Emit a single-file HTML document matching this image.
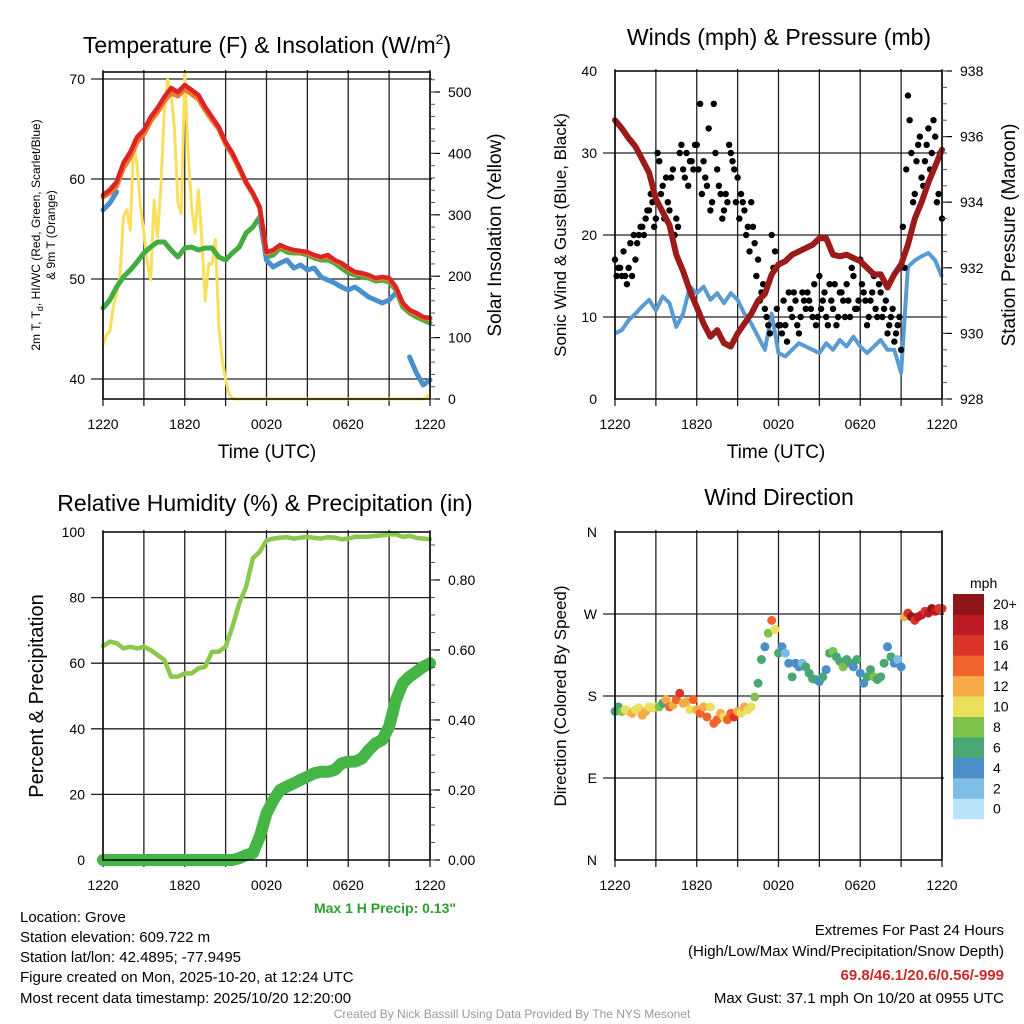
<!DOCTYPE html>
<html><head><meta charset="utf-8"><title>Mesonet Meteogram - Grove</title>
<style>
html,body{margin:0;padding:0;background:#fff;}
svg{display:block;font-family:"Liberation Sans",Arial,sans-serif;}
</style></head>
<body>
<svg id="chart" width="1024" height="1024" viewBox="0 0 1024 1024" xmlns="http://www.w3.org/2000/svg">
<rect x="0" y="0" width="1024" height="1024" fill="#fff"/>
<g id="grid"></g>
<g id="marks"></g>
<g id="axes"></g>
<g fill="#000">
<text x="267" y="53" font-size="23" text-anchor="middle">Temperature (F) &amp; Insolation (W/m<tspan font-size="14" dy="-9">2</tspan><tspan dy="9">)</tspan></text>
<text x="779" y="45" font-size="23" text-anchor="middle">Winds (mph) &amp; Pressure (mb)</text>
<text x="265" y="511" font-size="23" text-anchor="middle">Relative Humidity (%) &amp; Precipitation (in)</text>
<text x="779" y="505" font-size="23" text-anchor="middle">Wind Direction</text>
<text x="267" y="458" font-size="19" text-anchor="middle">Time (UTC)</text>
<text x="776" y="458" font-size="19" text-anchor="middle">Time (UTC)</text>
<text transform="translate(40,235) rotate(-90)" font-size="12" text-anchor="middle">2m T, T<tspan font-size="9" dy="3">d</tspan><tspan dy="-3">, HI/WC (Red, Green, Scarlet/Blue)</tspan></text>
<text transform="translate(55,235) rotate(-90)" font-size="12" text-anchor="middle">&amp; 9m T (Orange)</text>
<text transform="translate(501,235) rotate(-90)" font-size="19" text-anchor="middle">Solar Insolation (Yellow)</text>
<text transform="translate(566,235) rotate(-90)" font-size="17" text-anchor="middle">Sonic Wind &amp; Gust (Blue, Black)</text>
<text transform="translate(1015,235) rotate(-90)" font-size="19" text-anchor="middle">Station Pressure (Maroon)</text>
<text transform="translate(43,696) rotate(-90)" font-size="20" text-anchor="middle">Percent &amp; Precipitation</text>
<text transform="translate(566,696) rotate(-90)" font-size="17" text-anchor="middle">Direction (Colored By Speed)</text>
<text x="385" y="913" font-size="14" font-weight="bold" fill="#2e9e2e" text-anchor="middle">Max 1 H Precip: 0.13"</text>
<text x="970" y="588" font-size="14">mph</text>
</g>
<g font-size="15" fill="#000">
<text x="20" y="922">Location: Grove</text>
<text x="20" y="942">Station elevation: 609.722 m</text>
<text x="20" y="962">Station lat/lon: 42.4895; -77.9495</text>
<text x="20" y="982">Figure created on Mon, 2025-10-20, at 12:24 UTC</text>
<text x="20" y="1003">Most recent data timestamp: 2025/10/20 12:20:00</text>
</g>
<g font-size="15" fill="#000" text-anchor="end">
<text x="1004" y="935">Extremes For Past 24 Hours</text>
<text x="1004" y="956">(High/Low/Max Wind/Precipitation/Snow Depth)</text>
<text x="1004" y="980" fill="#cc2a2a" font-weight="bold">69.8/46.1/20.6/0.56/-999</text>
<text x="1004" y="1003">Max Gust: 37.1 mph On 10/20 at 0955 UTC</text>
</g>
<text x="512" y="1018" font-size="12" fill="#999" text-anchor="middle">Created By Nick Bassill Using Data Provided By The NYS Mesonet</text>
</svg>
<script>
// ===== data (30-min samples over 24 h unless noted) =====
const timeLabels = ["1220","1820","0020","0620","1220"];
const tempTicks = [40,50,60,70];
const solarTicks = [0,100,200,300,400,500];
const windTicks = [0,10,20,30,40];
const pressTicks = [928,930,932,934,936,938];
const rhTicks = [0,20,40,60,80,100];
const precipTicks = [0,0.2,0.4,0.6,0.8];
const precipTickLabels = ["0.00","0.20","0.40","0.60","0.80"];
const dirTicks = [0,90,180,270,360];
const dirTickLabels = ["N","E","S","W","N"];
const speedBins = ["0","2","4","6","8","10","12","14","16","18","20+"];

const airTemp = [58.4,58.9,59.7,61.6,62.7,64.2,64.9,66.2,67.1,68.2,69.1,68.7,69.4,68.9,68.4,67.2,66.2,65.2,63.7,62.6,61.2,59.7,58.6,57.2,52.7,52.9,53.4,53.1,52.9,52.8,52.7,52.4,52.2,52.4,51.9,51.6,51.1,50.7,50.6,50.4,50.1,50.2,50.1,49.2,47.6,46.9,46.6,46.2,46.1];
const temp9m = [58.2,58.6,59.3,61.1,62.2,63.7,64.5,65.8,66.7,67.8,68.6,68.3,69.0,68.5,68.0,66.9,65.9,65.0,63.5,62.4,61.0,59.6,58.5,57.1,52.6,52.8,53.3,53.0,52.8,52.7,52.6,52.3,52.1,52.3,51.8,51.5,51.0,50.6,50.5,50.3,50.0,50.1,50.0,49.1,47.5,46.8,46.5,46.1,46.0];
const dewPoint = [47.1,47.9,49.2,50.2,50.9,51.7,52.6,53.2,53.7,53.7,52.9,52.2,53.1,53.2,52.9,53.1,53.1,52.2,51.9,52.6,53.2,54.6,55.2,56.2,52.2,52.4,53.1,52.7,52.6,52.6,52.4,52.1,51.9,51.9,51.6,51.1,50.6,50.4,50.2,50.1,49.8,49.9,49.7,48.9,47.2,46.6,46.2,45.9,45.6];
const windChill = [56.9,57.6,58.7,null,null,null,null,null,null,null,null,null,null,null,null,null,null,null,null,null,null,null,null,56.2,51.9,51.2,51.6,51.9,51.1,51.4,50.9,51.1,50.2,49.9,49.6,49.2,48.9,49.2,48.7,48.2,47.9,47.6,47.9,48.6,null,42.2,40.6,39.4,39.9];
// 15-min samples
const solar = [88,104,110,150,172,199,297,308,275,422,380,313,270,221,194,324,264,346,470,520,498,440,319,302,530,400,313,270,340,260,160,220,220,260,120,64,31,9,1,0,0,0,0,0,0,0,0,0,0,0,0,0,0,0,0,0,0,0,0,0,0,0,0,0,0,0,0,0,0,0,0,0,0,0,0,0,0,0,0,0,0,0,0,0,0,0,0,0,0,0,0,0,0,0,0,3,9];

const pressure = [936.5,936.25,935.95,935.7,935.3,934.9,934.1,933.7,933.3,932.4,931.9,931.3,930.8,930.3,929.9,930.1,929.7,929.6,930.0,930.3,930.6,931.0,931.2,931.8,932.1,932.2,932.4,932.5,932.6,932.7,932.9,932.9,932.4,932.35,932.4,932.3,932.2,932.0,931.8,931.8,931.4,931.8,932.1,932.7,933.5,934.0,934.6,935.1,935.6];
const windSpeed = [8.0,8.4,9.6,10.4,11.3,12.1,10.8,12.5,11.7,8.8,10.4,13.7,12.9,13.7,12.1,12.9,11.7,12.9,12.1,10.4,9.2,7.6,6.0,10.4,5.6,5.2,6.0,6.8,6.4,6.0,5.6,6.8,6.0,7.2,6.4,7.6,6.4,5.6,6.4,7.2,6.0,6.0,3.2,16.1,16.9,17.4,17.8,16.9,14.9];
// 15-min gust samples and mid-interval gust samples
const gustA = [17,16,15,15,16,15,17,20,21,22,23,24,22,29,26,27,23,28,22,30,28,30,29,28,31,36,29,26,23,36,28,25,23,24,30,28,27,25,23,21,24,19,17,13,11,9,20,18,9,8,9,13,10,12,8,13,11,12,10,9,15,12,10,14,11,9,13,12,14,10,15,11,17,13,9,12,15,10,13,11,8,10,7,9,6,16,37,30,25,31,27,29,33,30,32,25,22];
const gustB = [15,16,18,14,19,20,19,21,20,23,25,21,30,25,22,24,27,20,21,31,27,26,29,31,28,25,27,33,24,30,26,22,25,31,29,24,22,24,20,18,21,15,12,14,10,8,16,11,9,12,7,11,13,9,10,12,13,11,14,10,11,13,9,12,14,10,13,10,12,16,11,12,14,12,10,13,11,14,10,12,9,11,8,10,21,28,34,24,29,32,26,31,28,34,24,30];

const relHum = [65.2,66.6,66.1,64.5,65.0,64.5,65.0,64.0,62.5,61.0,55.9,55.9,56.9,56.9,58.4,58.9,63.5,63.5,65.0,71.1,78.3,83.3,92.0,94.0,97.4,98.0,98.3,98.4,98.0,98.3,98.5,98.2,98.0,98.4,98.3,97.8,98.0,98.6,98.5,98.6,98.8,99.0,99.2,99.3,98.5,98.8,98.2,98.0,97.8];
const precip = [0,0,0,0,0,0,0,0,0,0,0,0,0,0,0,0,0,0,0,0,0.005,0.014,0.02,0.066,0.133,0.171,0.2,0.21,0.219,0.229,0.238,0.248,0.252,0.252,0.257,0.276,0.281,0.281,0.29,0.314,0.333,0.343,0.381,0.457,0.505,0.524,0.538,0.552,0.562];

// 15-min direction / speed samples
const windDir = [163,168,163,165,163,161,165,167,159,163,168,167,168,168,172,176,168,170,176,183,172,174,165,176,165,161,168,157,168,150,154,161,157,154,161,157,163,161,168,165,168,179,194,220,234,249,263,253,227,234,227,216,201,216,212,216,212,205,199,198,196,201,209,227,229,223,218,212,220,216,212,220,205,194,201,209,201,198,201,216,234,223,216,220,212,267,271,267,263,267,269,273,271,276,273,276,276];
const dirSpeed = [7,6,9,10,11,12,10,11,12,13,11,10,11,8,7,13,15,12,14,16,13,12,11,14,12,15,12,14,11,15,14,12,11,15,14,17,12,11,12,11,10,9,6,6,5,9,14,10,7,4,3,5,6,4,5,3,6,6,7,6,5,7,4,7,8,6,7,8,6,7,5,6,4,5,6,7,8,6,7,6,5,6,5,3,4,12,17,21,16,19,18,17,19,21,18,17,16];
const binColors = ["#b9e4f9","#80bde6","#4a8fc8","#49a774","#7dc24b","#e8e05a","#f7aa45","#f0632a","#dc3428","#bc1b25","#8e1519"];

// ===== helpers =====
const NS = "http://www.w3.org/2000/svg";
const gGrid = document.getElementById("grid");
const gMarks = document.getElementById("marks");
const gAxes = document.getElementById("axes");
function mk(tag, attrs, parent){
  const el = document.createElementNS(NS, tag);
  for (const k in attrs) el.setAttribute(k, attrs[k]);
  parent.appendChild(el);
  return el;
}
function lin(d0,d1,r0,r1){ return v => r0 + (v-d0)/(d1-d0)*(r1-r0); }
function pathD(vals, xf, yf){
  let d = "", pen = false;
  vals.forEach((v,i)=>{
    if (v === null){ pen = false; return; }
    d += (pen ? "L" : "M") + xf(i).toFixed(1) + "," + yf(v).toFixed(1);
    pen = true;
  });
  return d;
}
const P = {
  tl:{x0:103,x1:430,y0:72,y1:399},
  tr:{x0:615,x1:942,y0:71,y1:399},
  bl:{x0:103,x1:430,y0:532,y1:860},
  br:{x0:615,x1:942,y0:532,y1:860}
};
function frame(p, name, hLines){
  for (let k=0;k<=8;k++){
    const x = p.x0 + k*(p.x1-p.x0)/8;
    const l = mk("line",{x1:x,x2:x,y1:p.y0-2,y2:p.y1+7,stroke:"#222","stroke-width":1.3},gGrid);
    
    
  }
  hLines.forEach(y=>{
    const l = mk("line",{x1:p.x0-12,x2:p.x1+2,y1:y,y2:y,stroke:"#222","stroke-width":1.3},gGrid);
    
    
  });
  const r = mk("rect",{x:p.x0,y:p.y0,width:p.x1-p.x0,height:p.y1-p.y0,fill:"none",stroke:"#000","stroke-width":1.5},gAxes);
  
  
  timeLabels.forEach((t,k)=>{
    const x = p.x0 + k*(p.x1-p.x0)/4;
    const tx = mk("text",{x:x,y:p.y1+30,"font-size":14,"text-anchor":"middle"},gAxes);
    tx.textContent = t;
    
    
  });
}
function leftLabels(p, ticks, labels, yf, name){
  ticks.forEach((v,k)=>{
    const tx = mk("text",{x:p.x0-18,y:yf(v)+5,"font-size":14,"text-anchor":"end"},gAxes);
    tx.textContent = labels ? labels[k] : v;
    
    
  });
}
function rightAxis(p, ticks, labels, yf, name, minorStep){
  ticks.forEach((v,k)=>{
    const y = yf(v);
    const l = mk("line",{x1:p.x1,x2:p.x1+10,y1:y,y2:y,stroke:"#000","stroke-width":1.2},gAxes);
    
    
    const tx = mk("text",{x:p.x1+18,y:y+5,"font-size":14},gAxes);
    tx.textContent = labels ? labels[k] : v;
    
    
  });
  const lo = ticks[0], hi = ticks[ticks.length-1];
  for (let v=lo; v<=hi+minorStep*3; v+=minorStep){
    const y = yf(v);
    if (y < p.y0-1) break;
    const l = mk("line",{x1:p.x1,x2:p.x1+5,y1:y,y2:y,stroke:"#555","stroke-width":1},gAxes);
    
    
  }
}

// ===== panel 1: temperature & insolation =====
{
  const p = P.tl;
  const x30 = i => p.x0 + i/48*(p.x1-p.x0);
  const x15 = j => p.x0 + j/96*(p.x1-p.x0);
  const tY = lin(38,70.7,p.y1,p.y0);
  const sY = lin(0,532.6,p.y1,p.y0);
  frame(p,"temperature",tempTicks.map(tY));
  leftLabels(p,tempTicks,null,tY,"temperature-y");
  rightAxis(p,solarTicks,null,sY,"solar-y",20);
  let e;
  e = mk("path",{d:pathD(solar,x15,sY),fill:"none",stroke:"#f8e05c","stroke-width":3,"stroke-linejoin":"round"},gMarks);
  
  
  e = mk("path",{d:pathD(dewPoint,x30,tY),fill:"none",stroke:"#43ac3f","stroke-width":5,"stroke-linejoin":"round","stroke-linecap":"round"},gMarks);
  
  
  e = mk("path",{d:pathD(windChill,x30,tY),fill:"none",stroke:"#4a90cc","stroke-width":5,"stroke-linejoin":"round","stroke-linecap":"round"},gMarks);
  
  
  e = mk("path",{d:pathD(temp9m,x30,tY),fill:"none",stroke:"#f2792c","stroke-width":5,"stroke-linejoin":"round","stroke-linecap":"round"},gMarks);
  
  
  e = mk("path",{d:pathD(airTemp,x30,tY),fill:"none",stroke:"#d92525","stroke-width":4.5,"stroke-linejoin":"round","stroke-linecap":"round"},gMarks);
  
  
}

// ===== panel 2: winds & pressure =====
{
  const p = P.tr;
  const x30 = i => p.x0 + i/48*(p.x1-p.x0);
  const x15 = j => p.x0 + j/96*(p.x1-p.x0);
  const xMid = j => p.x0 + (j+0.5)/96*(p.x1-p.x0);
  const wY = lin(0,40,p.y1,p.y0);
  const pY = lin(928,938,p.y1,p.y0);
  frame(p,"winds",windTicks.slice(1,4).map(wY));
  leftLabels(p,windTicks,null,wY,"wind-y");
  rightAxis(p,pressTicks,null,pY,"pressure-y",0.5);
  let e;
  e = mk("path",{d:pathD(windSpeed,x30,wY),fill:"none",stroke:"#5a9bd4","stroke-width":4,"stroke-linejoin":"round"},gMarks);
  
  
  gustA.forEach((g,j)=>{
    const c = mk("circle",{cx:x15(j),cy:wY(g),r:3.2,fill:"#000"},gMarks);
    
    
  });
  gustB.forEach((g,j)=>{
    const c = mk("circle",{cx:xMid(j),cy:wY(g),r:3.2,fill:"#000"},gMarks);
    
    
  });
  e = mk("path",{d:pathD(pressure,x30,pY),fill:"none",stroke:"#9b1b1b","stroke-width":6,"stroke-linejoin":"round","stroke-linecap":"round"},gMarks);
  
  
}

// ===== panel 3: RH & precip =====
{
  const p = P.bl;
  const x30 = i => p.x0 + i/48*(p.x1-p.x0);
  const rY = lin(0,100,p.y1,p.y0);
  const qY = lin(0,0.937,p.y1,p.y0);
  frame(p,"humidity",rhTicks.slice(1,5).map(rY));
  leftLabels(p,rhTicks,null,rY,"humidity-y");
  rightAxis(p,precipTicks,precipTickLabels,qY,"precip-y",0.05);
  let e;
  e = mk("path",{d:pathD(relHum,x30,rY),fill:"none",stroke:"#8cc84b","stroke-width":4.5,"stroke-linejoin":"round","stroke-linecap":"round"},gMarks);
  
  
  e = mk("path",{d:pathD(precip,x30,qY),fill:"none",stroke:"#45b545","stroke-width":12,"stroke-linejoin":"round","stroke-linecap":"round"},gMarks);
  
  
}

// ===== panel 4: wind direction =====
{
  const p = P.br;
  const x15 = j => p.x0 + j/96*(p.x1-p.x0);
  const dY = lin(0,360,p.y1,p.y0);
  frame(p,"direction",dirTicks.slice(1,4).map(dY));
  leftLabels(p,dirTicks,dirTickLabels,dY,"direction-y");
  windDir.forEach((d,j)=>{
    const bin = Math.min(10, Math.max(0, Math.floor(dirSpeed[j]/2)));
    const c = mk("circle",{cx:x15(j),cy:dY(d),r:4.5,fill:binColors[bin]},gMarks);
    
    
  });
  const cb0 = 594, cbH = 20.45;
  speedBins.forEach((lab,k)=>{
    const y = cb0 + (10-k)*cbH;
    const r = mk("rect",{x:953,y:y,width:31,height:cbH+0.3,fill:binColors[k]},gAxes);
    
    
    const t = mk("text",{x:993,y:y+cbH/2+5,"font-size":14},gAxes);
    t.textContent = lab;
    
    
  });
}
</script>
</body></html>
